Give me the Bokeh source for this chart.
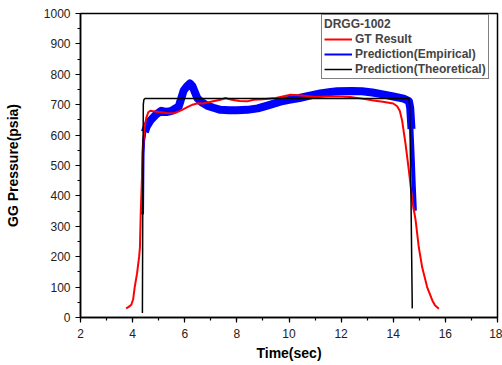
from bokeh.plotting import figure
from bokeh.models import Range1d, SingleIntervalTicker, Legend, LegendItem
from bokeh.embed import file_html
from bokeh.resources import INLINE

# ---- data ----
gt_t = [3.75, 3.85, 3.95, 4.02, 4.08, 4.17, 4.25, 4.28, 4.31, 4.35, 4.40, 4.45, 4.52, 4.60,
        4.68, 4.75, 5.0, 5.3, 5.6, 5.9, 6.1, 6.3, 6.5, 6.7, 7.0, 7.37, 7.56, 7.8, 8.1, 8.4,
        8.65, 9.0, 9.5, 10.06, 10.5, 11.0, 11.5, 11.85, 12.36, 12.8, 13.24, 13.6, 14.0, 14.15,
        14.25, 14.34, 14.47, 14.6, 14.73, 14.86, 14.98, 15.11, 15.3, 15.5, 15.6, 15.75]
gt_p = [30, 35, 42, 60, 100, 145, 200, 230, 340, 440, 560, 620, 655, 675,
        680, 679, 676, 673, 672, 683, 692, 700, 705, 704, 710, 716, 722, 716, 712, 711,
        716, 718, 722, 733, 730, 725, 727, 728, 725, 720, 714, 710, 704, 695,
        680, 648, 572, 483, 385, 319, 231, 165, 100, 56, 40, 29]

emp_t = [4.38, 4.39, 4.40, 4.42, 4.47, 4.55, 4.7, 4.9, 5.1, 5.3, 5.5, 5.77, 5.96, 6.1,
         6.2, 6.3, 6.48, 6.65, 6.86, 7.1, 7.37, 7.7, 8.0, 8.4, 8.8, 9.2, 9.67, 10.0, 10.4,
         10.8, 11.2, 11.6, 11.85, 12.4, 12.8, 13.2, 13.6, 14.0, 14.4, 14.6, 14.65, 14.7,
         14.75, 14.79, 14.83]
emp_p = [340, 450, 540, 580, 610, 630, 650, 668, 680, 676, 680, 694, 747, 762,
         770, 760, 722, 708, 697, 690, 683, 682, 682, 683, 688, 698, 710, 716, 722,
         730, 737, 742, 744, 745, 744, 740, 734, 727, 720, 712, 690, 620,
         520, 430, 352]

th_t = [4.375, 4.39, 4.41, 4.43, 4.47, 14.60, 14.63, 14.68, 14.73]
th_p = [15, 400, 700, 716, 720, 720, 700, 400, 30]

x_ticks_interval = 2
y_ticks_interval = 100

FONT = "Liberation Sans"

p = figure(width=502, height=365, output_backend="svg", toolbar_location=None,
           x_range=Range1d(2, 18), y_range=Range1d(0, 1000),
           min_border_left=80, min_border_right=5, min_border_top=13, min_border_bottom=48)

p.background_fill_color = "white"
p.border_fill_color = "white"
p.outline_line_color = "black"
p.outline_line_width = 1.5
p.xgrid.visible = False
p.ygrid.visible = False

p.xaxis.ticker = SingleIntervalTicker(interval=x_ticks_interval, num_minor_ticks=2)
p.yaxis.ticker = SingleIntervalTicker(interval=y_ticks_interval, num_minor_ticks=2)

for ax in (p.xaxis[0], p.yaxis[0]):
    ax.axis_line_color = "black"
    ax.axis_line_width = 1.5
    ax.major_tick_line_color = "black"
    ax.major_tick_line_width = 1.2
    ax.minor_tick_line_color = "black"
    ax.minor_tick_line_width = 1.2
    ax.major_tick_in = 0
    ax.major_tick_out = 5
    ax.minor_tick_in = 0
    ax.minor_tick_out = 3
    ax.major_label_text_font = FONT
    ax.major_label_text_font_size = "12px"
    ax.major_label_text_color = "#222222"
    ax.axis_label_text_font = FONT
    ax.axis_label_text_font_size = "14px"
    ax.axis_label_text_font_style = "bold"
    ax.axis_label_text_color = "black"

p.xaxis.axis_label = "Time(sec)"
p.yaxis.axis_label = "GG Pressure(psia)"
p.xaxis.major_label_standoff = 6
p.yaxis.major_label_standoff = 5
p.xaxis.axis_label_standoff = 4
p.yaxis.axis_label_standoff = 20

# thin copy underneath (also serves as the legend glyph)
r_emp_leg = p.line(emp_t, emp_p, line_color="#0000ff", line_width=2)
# noisy empirical band: thin on the steep rise, thick along the plateau
n = len(emp_t)
p.line(emp_t[:5], emp_p[:5], line_color="#0000ff", line_width=3, line_join="round")
p.line(emp_t[4:n - 3], emp_p[4:n - 3], line_color="#0000ff", line_width=8, line_join="round")
p.line(emp_t[n - 4:], emp_p[n - 4:], line_color="#0000ff", line_width=4, line_join="round")
r_gt = p.line(gt_t, gt_p, line_color="#ff0000", line_width=2, line_join="round")
r_th = p.line(th_t, th_p, line_color="black", line_width=1.5)

legend = Legend(items=[
    LegendItem(label="GT Result", renderers=[r_gt]),
    LegendItem(label="Prediction(Empirical)", renderers=[r_emp_leg]),
    LegendItem(label="Prediction(Theoretical)", renderers=[r_th]),
], location=(241, 238))
legend.title = "DRGG-1002"
legend.title_text_font = FONT
legend.title_text_font_size = "12px"
legend.title_text_font_style = "bold"
legend.title_standoff = 1
legend.label_text_font = FONT
legend.label_text_font_size = "12px"
legend.label_text_font_style = "bold"
legend.label_height = 14
legend.glyph_height = 14
legend.glyph_width = 28
legend.label_standoff = 3
legend.spacing = 1
legend.padding = 2
legend.margin = 0
legend.border_line_color = "black"
legend.border_line_width = 1
legend.background_fill_alpha = 1
p.add_layout(legend, "center")

open("out.html", "w").write(file_html(p, INLINE))
